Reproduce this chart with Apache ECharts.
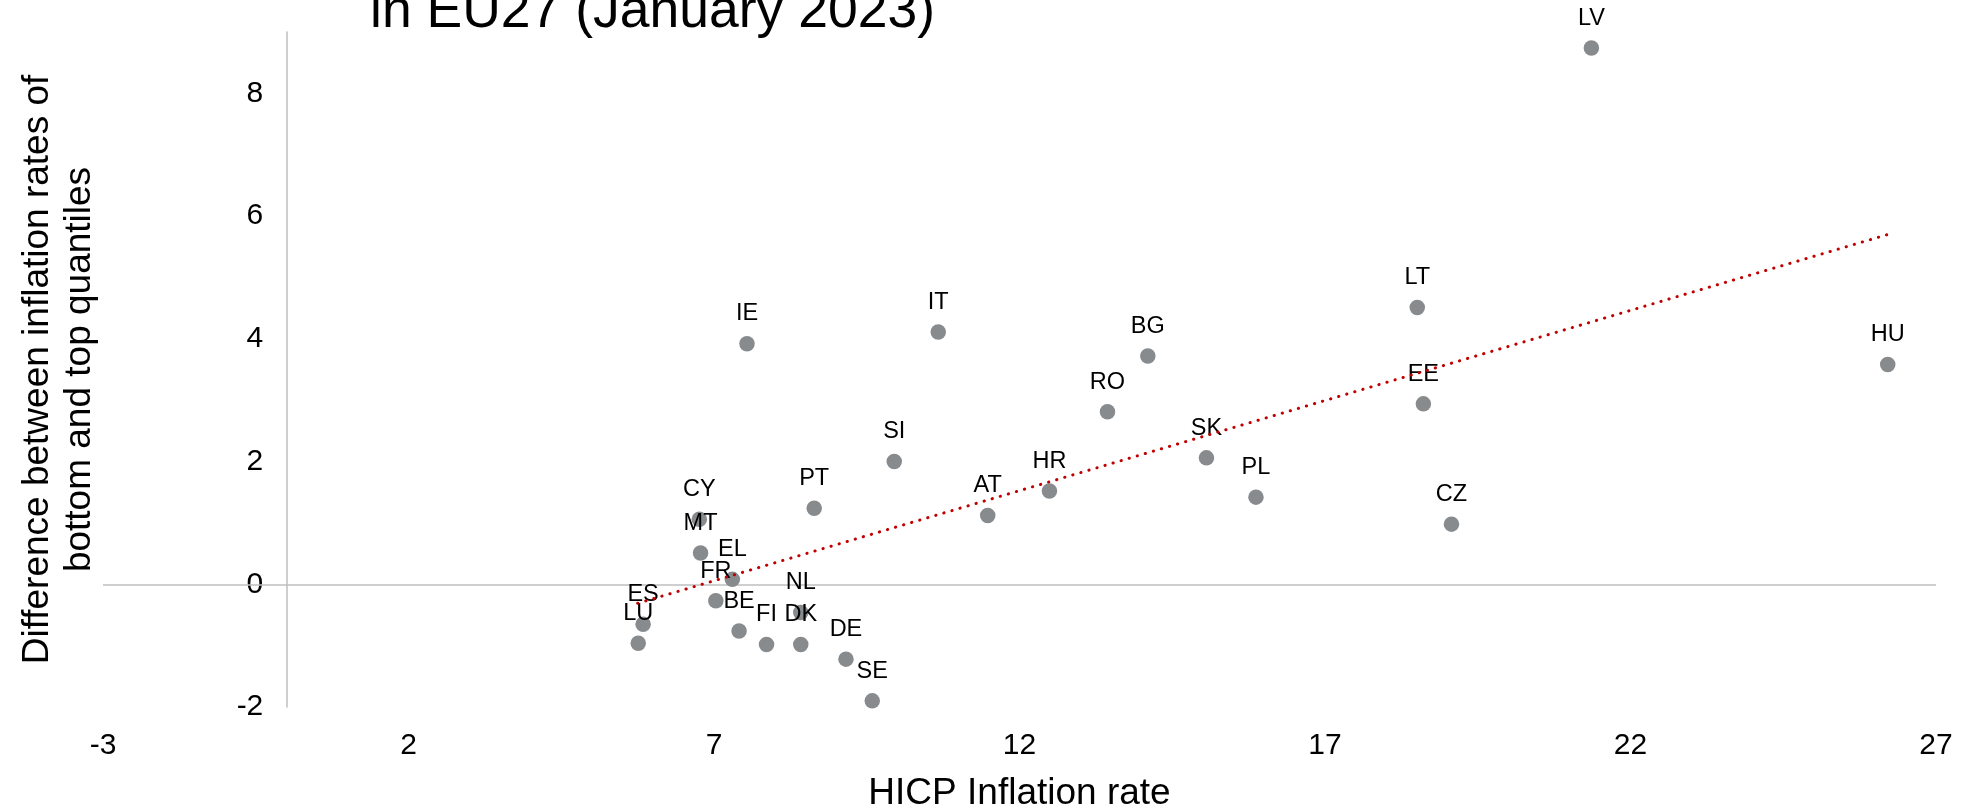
<!DOCTYPE html>
<html><head><meta charset="utf-8">
<script src="https://cdn.jsdelivr.net/npm/echarts@6/dist/echarts.min.js"></script>
<style>html,body{margin:0;padding:0;background:#fff}#c{width:1965px;height:809px}</style>
</head><body><div id="c"></div>
<script>
// Country codes
const countries = ['BE','BG','CZ','DK','DE','EE','IE','EL','ES','FR','HR','IT','CY','LV','LT','LU','HU','MT','NL','AT','PL','PT','RO','SI','SK','FI','SE'];
// HICP inflation rate (x)
const hicpRate = [7.41,14.10,19.07,8.42,9.16,18.61,7.54,7.30,5.84,7.03,12.49,10.67,6.76,21.36,18.51,5.76,26.21,6.78,8.42,11.48,15.87,8.64,13.44,9.95,15.06,7.86,9.59];
// Difference between inflation rates of bottom and top quantiles (y)
const quantileGap = [-0.76,3.72,0.98,-0.98,-1.22,2.94,3.92,0.08,-0.65,-0.27,1.52,4.11,1.06,8.74,4.51,-0.96,3.58,0.51,-0.46,1.12,1.42,1.24,2.81,2.00,2.06,-0.98,-1.90];
// Linear trendline end points
const trendX = [5.75, 26.21];
const trendY = [-0.31, 5.70];
// Axis tick labels
const xTickLabels = [-3, 2, 7, 12, 17, 22, 27];
const yTickLabels = [-2, 0, 2, 4, 6, 8];
const yAxisMax = 9;

const FONT = "'Liberation Sans', Arial, sans-serif";
const points = countries.map((c, i) => ({ name: c, value: [hicpRate[i], quantileGap[i]] }));
const trend = trendX.map((x, i) => [x, trendY[i]]);

const GRID_LEFT = 103, GRID_RIGHT = 29;
const chartWidth = 1965;
const xMin = xTickLabels[0], xMax = xTickLabels[xTickLabels.length - 1];
// shift the y axis so that it crosses the x axis at value 0 (labels and name follow it)
const yAxisShift = (0 - xMin) / (xMax - xMin) * (chartWidth - GRID_LEFT - GRID_RIGHT);

const chart = echarts.init(document.getElementById('c'), null, { renderer: 'canvas' });
chart.setOption({
  animation: false,
  backgroundColor: '#ffffff',
  textStyle: { fontFamily: FONT },
  title: {
    text: 'in EU27 (January 2023)',
    left: 370, top: -15, padding: 0,
    textStyle: { fontSize: 53.5, fontWeight: 'normal', color: '#000', fontFamily: FONT }
  },
  grid: { left: GRID_LEFT, right: GRID_RIGHT, top: 32, bottom: 102, containLabel: false, outerBoundsMode: 'none' },
  xAxis: {
    type: 'value',
    min: xMin, max: xMax,
    interval: xTickLabels[1] - xTickLabels[0],
    axisLine: { show: false, onZero: false },
    axisTick: { show: false },
    splitLine: { show: false },
    axisLabel: { fontSize: 30, color: '#000', margin: 24, fontFamily: FONT },
    name: 'HICP Inflation rate',
    nameLocation: 'middle',
    nameGap: 68,
    nameTextStyle: { fontSize: 37, color: '#000', fontFamily: FONT }
  },
  yAxis: {
    type: 'value',
    min: yTickLabels[0], max: yAxisMax,
    interval: yTickLabels[1] - yTickLabels[0],
    offset: -yAxisShift,
    axisLine: { show: true, onZero: false, lineStyle: { color: '#BFBFBF', width: 1.5 } },
    axisTick: { show: false },
    splitLine: { show: false },
    axisLabel: { fontSize: 30, color: '#000', margin: 23, showMaxLabel: false, fontFamily: FONT },
    name: 'Difference between inflation rates of\nbottom and top quantiles',
    nameLocation: 'middle',
    nameGap: 186,
    nameTextStyle: { fontSize: 37, lineHeight: 42, color: '#000', fontFamily: FONT }
  },
  series: [
    {
      type: 'scatter',
      z: 2,
      data: points,
      symbolSize: 15.5,
      itemStyle: { color: '#878B8E', opacity: 1 },
      label: { show: true, position: 'top', distance: 10, formatter: '{b}', fontSize: 23.5, color: '#000', fontFamily: FONT },
      markLine: {
        silent: true, z: 1, symbol: 'none', animation: false,
        label: { show: false },
        lineStyle: { color: '#BFBFBF', width: 1.5, type: 'solid' },
        data: [{ yAxis: 0 }]
      }
    },
    {
      type: 'line',
      z: 3,
      data: trend,
      symbol: 'none',
      showSymbol: false,
      silent: true,
      lineStyle: { color: '#C00000', width: 3, type: [0.3, 8.1], cap: 'round' }
    }
  ]
});
</script>
</body></html>
